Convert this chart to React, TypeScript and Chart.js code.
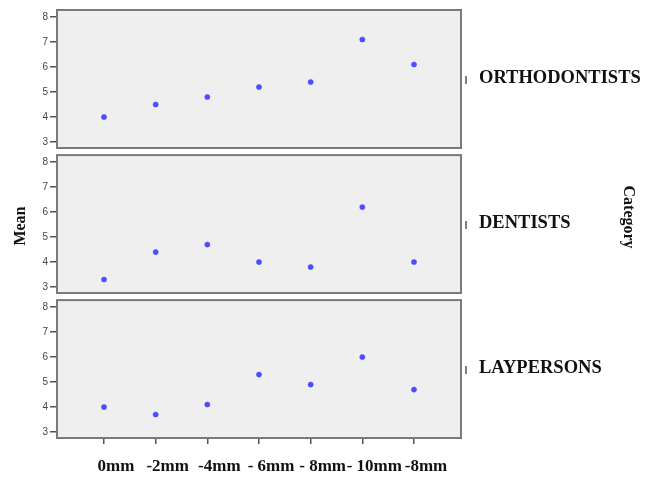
import React, { useEffect, useRef } from 'react';
import { Chart, registerables } from 'chart.js';

Chart.register(...registerables);

const xLabels = ['0mm', '-2mm', '-4mm', '- 6mm', '- 8mm', '- 10mm', '-8mm'];
const yTicks = [3, 4, 5, 6, 7, 8];
const categories = ['ORTHODONTISTS', 'DENTISTS', 'LAYPERSONS'];
const orthodontists = [4.0, 4.5, 4.8, 5.2, 5.4, 7.1, 6.1];
const dentists = [3.3, 4.4, 4.7, 4.0, 3.8, 6.2, 4.0];
const laypersons = [4.0, 3.7, 4.1, 5.3, 4.9, 6.0, 4.7];
const seriesList = [orthodontists, dentists, laypersons];

const SERIF = '"Liberation Serif", "Times New Roman", serif';
const SANS = '"Liberation Sans", Arial, sans-serif';

type PanelProps = {
  index: number;
  top: number;
  height: number;
  padTop: number;
  padBottom: number;
  showX: boolean;
  showTitles: boolean;
};

function Panel({ index, top, height, padTop, padBottom, showX, showTitles }: PanelProps) {
  const ref = useRef<HTMLCanvasElement | null>(null);

  useEffect(() => {
    if (!ref.current) return;
    const values = seriesList[index];
    const label = categories[index];

    const framePlugin = {
      id: 'frame' + index,
      beforeDraw(chart: any) {
        const { ctx, chartArea } = chart;
        ctx.save();
        ctx.fillStyle = '#efefef';
        ctx.fillRect(chartArea.left, chartArea.top, chartArea.right - chartArea.left, chartArea.bottom - chartArea.top);
        ctx.restore();
      },
      afterDraw(chart: any) {
        const { ctx, chartArea } = chart;
        const cy = (chartArea.top + chartArea.bottom) / 2;
        ctx.save();
        ctx.strokeStyle = '#7a7a7a';
        ctx.lineWidth = 2;
        ctx.strokeRect(chartArea.left, chartArea.top, chartArea.right - chartArea.left, chartArea.bottom - chartArea.top);
        // small legend tick
        ctx.strokeStyle = '#555';
        ctx.lineWidth = 1.5;
        ctx.beginPath();
        ctx.moveTo(chartArea.right + 5, cy - 3);
        ctx.lineTo(chartArea.right + 5, cy + 5);
        ctx.stroke();
        // category label
        ctx.fillStyle = '#111';
        ctx.font = 'bold 18.5px ' + SERIF;
        ctx.textBaseline = 'middle';
        ctx.textAlign = 'left';
        ctx.fillText(label, chartArea.right + 18, cy - 1);
        if (showTitles) {
          ctx.font = 'bold 16px ' + SERIF;
          ctx.textAlign = 'center';
          ctx.save();
          ctx.translate(21, cy + 2);
          ctx.rotate(-Math.PI / 2);
          ctx.fillText('Mean', 0, 0);
          ctx.restore();
          ctx.save();
          ctx.translate(628, cy - 7);
          ctx.rotate(Math.PI / 2);
          ctx.fillText('Category', 0, 0);
          ctx.restore();
        }
        ctx.restore();
      },
    };

    const chart = new Chart(ref.current, {
      type: 'scatter',
      data: {
        datasets: [
          {
            data: values.map((v, i) => ({ x: i, y: v })),
            backgroundColor: '#4d4dff',
            borderColor: '#4d4dff',
            pointRadius: 2.6,
            pointBorderWidth: 0.5,
            pointHoverRadius: 2.6,
            showLine: false,
          },
        ],
      },
      options: {
        animation: false,
        responsive: false,
        maintainAspectRatio: false,
        layout: { padding: { top: padTop, bottom: padBottom, left: 0, right: 195 } },
        plugins: { legend: { display: false }, tooltip: { enabled: false } },
        scales: {
          x: {
            type: 'linear',
            display: showX,
            min: -0.91,
            max: 6.91,
            afterBuildTicks: (scale: any) => {
              scale.ticks = xLabels.map((_, i) => ({ value: i }));
            },
            afterFit: (scale: any) => {
              if (showX) scale.height = 39;
              scale.paddingLeft = 0;
              scale.paddingRight = 0;
            },
            grid: {
              drawOnChartArea: false,
              drawTicks: true,
              tickLength: 6,
              color: '#555',
              lineWidth: 1.5,
            },
            border: { display: false },
            ticks: {
              autoSkip: false,
              maxRotation: 0,
              padding: 12,
              labelOffset: 12,
              color: '#111',
              font: { family: SERIF, size: 17, weight: 'bold' },
              callback: (v: any) => xLabels[Math.round(Number(v))] ?? '',
            },
          },
          y: {
            type: 'linear',
            min: 2.76,
            max: 8.28,
            afterBuildTicks: (scale: any) => {
              scale.ticks = yTicks.map((v) => ({ value: v }));
            },
            afterFit: (scale: any) => {
              scale.width = 57;
              scale.paddingTop = 0;
              scale.paddingBottom = 0;
            },
            grid: {
              drawOnChartArea: false,
              drawTicks: true,
              tickLength: 7,
              color: '#555',
              lineWidth: 1.5,
            },
            border: { display: false },
            ticks: {
              padding: 2,
              color: '#444',
              font: { family: SANS, size: 10 },
              callback: (v: any) => String(v),
            },
          },
        },
      },
      plugins: [framePlugin],
    });
    return () => chart.destroy();
  }, [index, padTop, padBottom, showX, showTitles]);

  return (
    <canvas
      ref={ref}
      width={656}
      height={height}
      style={{ position: 'absolute', left: 0, top, width: 656, height }}
    />
  );
}

export default function App() {
  return (
    <div style={{ position: 'absolute', left: 0, top: 0, width: 656, height: 477, background: '#fff', overflow: 'hidden' }}>
      <Panel index={0} top={0} height={152} padTop={10} padBottom={4} showX={false} showTitles={false} />
      <Panel index={1} top={152} height={146} padTop={2} padBottom={5} showX={false} showTitles={true} />
      <Panel index={2} top={297} height={180} padTop={2} padBottom={0} showX={true} showTitles={false} />
    </div>
  );
}
